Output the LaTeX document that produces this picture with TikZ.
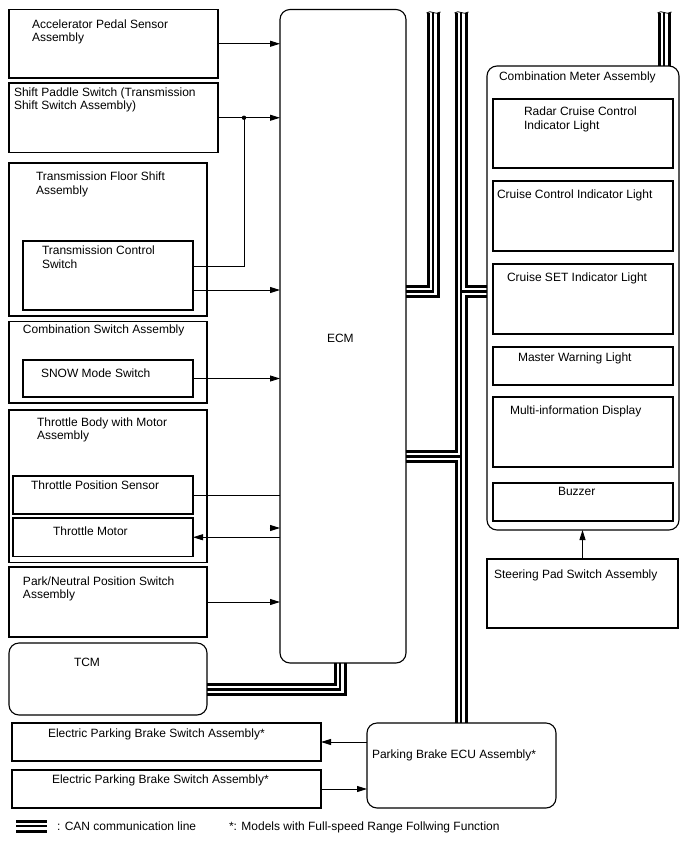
\documentclass[tikz,border=0pt]{standalone}
\usepackage{fontspec}
\setmainfont{Liberation Sans}
\usetikzlibrary{arrows.meta,calc,backgrounds}
\newcommand\mkbox[6]{\node[#1, minimum width={(#5)-(#3)}, minimum height={(#6)-(#4)}] (#2) at ({((#3)+(#5))/2},{((#4)+(#6))/2}) {};}
\newcommand\lbl[3]{\node[lbltext] (#1) at (#2) {\rule{0pt}{10pt}#3};}
\newcommand\canpaths[1]{%
 \draw[#1] (aTop) -- (aBend) -- (aBend -| ecm.east);
 \draw[#1] (bTop) -- (bTop |- ecu.north);
 \draw[#1] (bR) -- (bR -| meter.west);
 \draw[#1] (bL) -- (bL -| ecm.east);
 \draw[#1] (cTop) -- (cTop |- meter.north);
 \draw[#1] (dBend |- ecm.south) -- (dBend) -- (dBend -| tcm.east);
 \draw[#1] (lg1) -- (lg2);}
\begin{document}
\begin{tikzpicture}[x=1pt,y=-1pt,
  box/.style={draw,line width=1.1pt,inner sep=0pt,outer sep=0pt},
  rbox/.style={box,rounded corners=10pt},
  lbltext/.style={anchor=north west,inner sep=0pt,outer sep=0pt,align=left,font=\fontsize{12}{13.5}\selectfont},
  arr/.style={-{Triangle[length=10pt,width=6pt]},line width=0.9pt},
  conn/.style={line width=0.9pt},
  canA/.style={line width=13pt,black,line cap=butt,line join=miter},
  canB/.style={line width=7pt,white,line cap=butt,line join=miter},
  canC/.style={line width=2.6pt,black,line cap=butt,line join=miter}]
\useasboundingbox (0,0) rectangle (688,852);
% ---- boxes ----
\mkbox{box}{accel}{9}{9.5}{218}{78}
\mkbox{box}{shift}{9}{83}{218}{152.5}
\mkbox{box}{floor}{9}{163}{207}{316}
\mkbox{box}{tcs}{23}{241}{193}{310}
\mkbox{box}{comb}{9}{321.5}{207}{403}
\mkbox{box}{snow}{23}{360}{193}{397}
\mkbox{box}{throttle}{9}{410}{207}{562.5}
\mkbox{box}{tps}{13}{476}{193}{514}
\mkbox{box}{tmotor}{13}{518}{193}{556.5}
\mkbox{box}{pn}{9}{567}{207}{637}
\mkbox{rbox}{tcm}{9}{643}{207}{715}
\mkbox{rbox}{ecm}{280}{9.5}{406}{663}
\mkbox{rbox}{meter}{487}{66}{679}{530}
\mkbox{box}{radar}{493}{99}{673}{168}
\mkbox{box}{cc}{493}{181}{673}{251}
\mkbox{box}{cset}{493}{264}{673}{334}
\mkbox{box}{mwl}{493}{347}{673}{385}
\mkbox{box}{mid}{493}{397}{673}{467}
\mkbox{box}{buzz}{493}{483}{673}{521}
\mkbox{box}{steer}{487}{559}{678}{628}
\mkbox{box}{epbA}{12}{723}{321}{761}
\mkbox{box}{epbB}{12}{770}{321}{808}
\mkbox{rbox}{ecu}{367}{723}{556}{808}
% ---- labels ----
\lbl{tAccel}{32,18}{Accelerator Pedal Sensor\\Assembly}
\lbl{tShift}{14,86}{Shift Paddle Switch (Transmission\\Shift Switch Assembly)}
\lbl{tFloor}{36,170.5}{Transmission Floor Shift\\Assembly}
\lbl{tTcs}{42,244.5}{Transmission Control\\Switch}
\lbl{tComb}{23,323.5}{Combination Switch Assembly}
\lbl{tSnow}{41,367.5}{SNOW Mode Switch}
\lbl{tThr}{37,416}{Throttle Body with Motor\\Assembly}
\lbl{tTps}{31,479}{Throttle Position Sensor}
\lbl{tTm}{53,525}{Throttle Motor}
\lbl{tPn}{23,575}{Park/Neutral Position Switch\\Assembly}
\lbl{tTcm}{74,656}{TCM}
\lbl{tEcm}{327,332}{ECM}
\lbl{tMeter}{499,70}{Combination Meter Assembly}
\lbl{tRadar}{524,105.5}{Radar Cruise Control\\Indicator Light}
\lbl{tCc}{497,188.5}{Cruise Control Indicator Light}
\lbl{tCset}{507,271.5}{Cruise SET Indicator Light}
\lbl{tMwl}{518,351.5}{Master Warning Light}
\lbl{tMid}{510,404.5}{Multi-information Display}
\lbl{tBuzz}{558,485}{Buzzer}
\lbl{tSteer}{494,568}{Steering Pad Switch Assembly}
\lbl{tEpbA}{48,727}{Electric Parking Brake Switch Assembly*}
\lbl{tEpbB}{52,773}{Electric Parking Brake Switch Assembly*}
\lbl{tEcu}{372,748}{Parking Brake ECU Assembly*}
\lbl{tLegCan}{57,820}{: CAN communication line}
\lbl{tLegStar}{229,820}{*: Models with Full-speed Range Follwing Function}
% ---- signal connectors ----
\draw[arr] (accel.east) -- (accel.east -| ecm.west);
\coordinate (j1) at ($(shift.east)+(26,0)$);
\draw[arr] (shift.east) -- (shift.east -| ecm.west);
\fill (j1) circle (2.2pt);
\coordinate (tcsA) at ([yshift=9.5pt]tcs.east);
\coordinate (tcsB) at ([yshift=-14.5pt]tcs.east);
\draw[conn] (tcsA) -| (j1);
\draw[arr] (tcsB) -- (tcsB -| ecm.west);
\draw[arr] (snow.east) -- (snow.east -| ecm.west);
\draw[conn] (tps.east) -- (tps.east -| ecm.west);
\coordinate (tmA) at ([yshift=9.25pt]tmotor.east);
\coordinate (hb) at (tmA -| ecm.west);
\coordinate (ha) at ($(hb)+(-10.5,0)$);
\draw[arr] (ha) -- (hb);
\draw[arr] (tmotor.east -| ecm.west) -- (tmotor.east);
\draw[arr] (pn.east) -- (pn.east -| ecm.west);
\draw[arr] (steer.north) -- (steer.north |- meter.south);
\draw[arr] (epbA.east -| ecu.west) -- (epbA.east);
\draw[arr] (epbB.east) -- (epbB.east -| ecu.west);
% ---- CAN lines ----
\coordinate (aTop) at (433,13);
\coordinate (aBend) at (433,291.5);
\coordinate (bTop) at (461,13);
\coordinate (bR) at (461,291.5);
\coordinate (bL) at (461,456.5);
\coordinate (cTop) at (664,13);
\coordinate (dBend) at (340,689.5);
\coordinate (lg1) at (16,826);
\coordinate (lg2) at (47,826);
\begin{scope}[on background layer]
\canpaths{canA}
\canpaths{canB}
\canpaths{canC}
\end{scope}
\foreach \t in {aTop,bTop,cTop}
  \draw[line width=0.8pt] ($(\t)+(-6.5,0)$) .. controls ($(\t)+(-2,-4)$) and ($(\t)+(2,3)$) .. ($(\t)+(7.5,-1)$);
\end{tikzpicture}
\end{document}
